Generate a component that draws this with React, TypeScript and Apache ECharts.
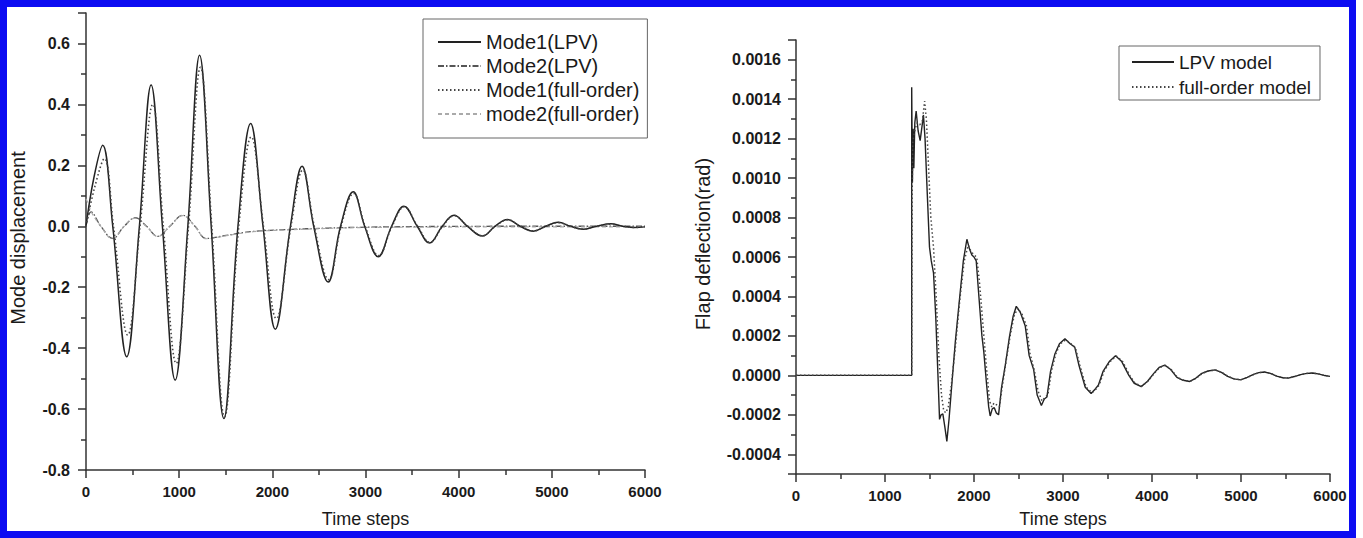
import React, { useEffect, useRef } from "react";
import * as echarts from "echarts";

// ---------- DATA ----------
// Left chart: mode displacement vs time steps
const mode1Lpv: [number, number][] = [
  [0, 0], [85, 0.16], [179, 0.266], [287, 0], [437, -0.428], [573, 0], [699, 0.464],
  [820, 0], [957, -0.505], [1093, 0], [1219, 0.561], [1344, 0], [1480, -0.631],
  [1631, 0], [1767, 0.337], [1900, 0], [2032, -0.338], [2194, 0], [2319, 0.197],
  [2444, 0], [2599, -0.183], [2732, 0], [2868, 0.113], [2991, 0], [3137, -0.1],
  [3280, 0], [3412, 0.066], [3555, 0], [3688, -0.055], [3824, 0], [3950, 0.036],
  [4093, 0], [4255, -0.032], [4390, 0], [4524, 0.022], [4660, 0], [4800, -0.016],
  [4935, 0], [5068, 0.013], [5200, 0], [5330, -0.01], [5480, 0], [5634, 0.008],
  [5760, 0], [5885, -0.004], [6000, -0.002],
];
const mode2Lpv: [number, number][] = [
  [0, 0], [54, 0.047], [160, 0], [287, -0.04], [410, 0], [530, 0.028], [650, 0],
  [770, -0.033], [900, 0], [1039, 0.036], [1170, 0], [1290, -0.04], [1505, -0.03],
  [1792, -0.017], [2150, -0.011], [2600, -0.006], [3000, -0.003], [3600, -0.001],
  [4500, 0], [6000, 0],
];
const mode1Full: [number, number][] = [
  [0, 0], [95, 0.13], [197, 0.222], [295, 0], [448, -0.357], [580, 0], [717, 0.4],
  [830, 0], [968, -0.45], [1100, 0], [1229, 0.522], [1350, 0], [1487, -0.625],
  [1640, 0], [1774, 0.293], [1905, 0], [2043, -0.303], [2200, 0], [2327, 0.185],
  [2450, 0], [2606, -0.175], [2738, 0], [2873, 0.108], [2996, 0], [3142, -0.096],
  [3285, 0], [3416, 0.064], [3560, 0], [3692, -0.053], [3828, 0], [3954, 0.035],
  [4097, 0], [4258, -0.031], [4393, 0], [4527, 0.021], [4663, 0], [4803, -0.015],
  [4938, 0], [5071, 0.012], [5203, 0], [5333, -0.009], [5483, 0], [5637, 0.007],
  [5763, 0], [5888, -0.004], [6000, -0.002],
];
const mode2Full: [number, number][] = [
  [0, 0.09], [30, 0.07], [60, 0.045], [160, 0], [285, -0.041], [410, 0], [530, 0.027],
  [650, 0], [770, -0.034], [900, 0], [1039, 0.035], [1170, 0], [1292, -0.041],
  [1505, -0.031], [1792, -0.018], [2150, -0.012], [2600, -0.007], [3000, -0.004],
  [3600, -0.003], [4500, -0.002], [6000, -0.002],
];

// Right chart: flap deflection (rad) vs time steps
const lpvModel: [number, number][] = [
  [0, 0], [1300, 0], [1300, 0.00146], [1308, 0.00098], [1316, 0.00125], [1324, 0.00105],
  [1335, 0.00128], [1350, 0.00134], [1372, 0.00124], [1395, 0.00119], [1415, 0.00126],
  [1432, 0.00132], [1450, 0.0012], [1475, 0.00092], [1500, 0.00065], [1520, 0.00058],
  [1545, 0.00052], [1570, 0.0003], [1595, 0], [1613, -0.000223], [1630, -0.0002],
  [1650, -0.000195], [1672, -0.00026], [1695, -0.000335], [1720, -0.00022],
  [1750, -0.00005], [1790, 0.00017], [1840, 0.0004], [1880, 0.00058], [1920, 0.00069],
  [1950, 0.00064], [1976, 0.00061], [2000, 0.0006], [2025, 0.00058], [2055, 0.0004],
  [2089, 0.0002], [2110, 0.00012], [2140, -0.00004], [2165, -0.00016], [2182, -0.000206],
  [2205, -0.00017], [2228, -0.000164], [2250, -0.00019], [2276, -0.0002], [2310, -0.00006],
  [2351, 0.00005], [2400, 0.0002], [2440, 0.0003], [2475, 0.00035], [2520, 0.00032],
  [2576, 0.00025], [2620, 0.0001], [2670, 0.00003], [2710, -0.0001], [2757, -0.000153],
  [2790, -0.00012], [2819, -0.00011], [2860, 0.00002], [2910, 0.00011], [2960, 0.00016],
  [3022, 0.000186], [3080, 0.00016], [3132, 0.000143], [3180, 0.00005], [3250, -0.00006],
  [3316, -0.000092], [3360, -0.00007], [3397, -0.00005], [3450, 0.00002], [3520, 0.00007],
  [3590, 0.0001], [3660, 0.00007], [3740, 0], [3800, -0.00004], [3879, -0.000057],
  [3950, -0.00003], [4020, 0.00001], [4080, 0.00004], [4144, 0.000052], [4210, 0.00003],
  [4280, -0.00001], [4350, -0.000025], [4424, -0.000031], [4490, -0.000015], [4560, 0.00001],
  [4630, 0.000022], [4708, 0.000028], [4780, 0.000015], [4850, -0.000005], [4920, -0.000018],
  [4997, -0.000023], [5070, -0.00001], [5140, 0.000005], [5200, 0.000014], [5262, 0.000017],
  [5330, 0.00001], [5400, -0.000004], [5470, -0.000012], [5532, -0.000014], [5600, -0.000006],
  [5670, 0.000004], [5740, 0.00001], [5807, 0.000012], [5880, 0.000006], [5940, -0.000001],
  [6000, -0.000005],
];
const fullOrderModel: [number, number][] = [
  [0, 0], [1300, 0], [1305, 0.0009], [1312, 0.00118], [1325, 0.00122], [1340, 0.00125],
  [1360, 0.00128], [1390, 0.00127], [1420, 0.00129], [1445, 0.00139], [1465, 0.0013],
  [1490, 0.00105], [1515, 0.0008], [1545, 0.00065], [1575, 0.0004], [1605, 0.0001],
  [1635, -0.0001], [1660, -0.00018], [1685, -0.00019], [1710, -0.00016], [1745, -0.00005],
  [1790, 0.00014], [1840, 0.00038], [1890, 0.00058], [1935, 0.00066], [1965, 0.00063],
  [2000, 0.00061], [2030, 0.0006], [2060, 0.00048], [2100, 0.00026], [2140, 0.00004],
  [2175, -0.00013], [2200, -0.00016], [2225, -0.00014], [2255, -0.00015], [2285, -0.00016],
  [2320, -0.00005], [2360, 0.00007], [2410, 0.00021], [2450, 0.0003], [2490, 0.00034],
  [2540, 0.00031], [2590, 0.00025], [2630, 0.00011], [2680, 0.00002], [2720, -0.00008],
  [2765, -0.00013], [2800, -0.00011], [2830, -0.0001], [2870, 0.00002], [2920, 0.00011],
  [2970, 0.00016], [3030, 0.00018], [3090, 0.00016], [3140, 0.00014], [3190, 0.00005],
  [3260, -0.00006], [3325, -0.000088], [3370, -0.00007], [3405, -0.00005], [3460, 0.00002],
  [3530, 0.00007], [3600, 0.000098], [3670, 0.00007], [3750, 0], [3810, -0.00004],
  [3885, -0.000055], [3955, -0.00003], [4025, 0.00001], [4085, 0.00004], [4150, 0.00005],
  [4215, 0.00003], [4285, -0.00001], [4355, -0.000025], [4430, -0.00003], [4495, -0.000015],
  [4565, 0.00001], [4635, 0.000022], [4712, 0.000027], [4785, 0.000015], [4855, -0.000005],
  [4925, -0.000018], [5000, -0.000022], [5075, -0.00001], [5145, 0.000005], [5205, 0.000014],
  [5266, 0.000016], [5335, 0.00001], [5405, -0.000004], [5475, -0.000012], [5536, -0.000013],
  [5605, -0.000006], [5675, 0.000004], [5745, 0.00001], [5810, 0.000011], [5885, 0.000006],
  [5945, -0.000001], [6000, -0.000004],
];

const leftLegend = ["Mode1(LPV)", "Mode2(LPV)", "Mode1(full-order)", "mode2(full-order)"];
const rightLegend = ["LPV model", "full-order model"];
const leftYName = "Mode displacement";
const rightYName = "Flap deflection(rad)";
const xName = "Time steps";

// ---------- STYLE ----------
const FONT = "'Liberation Sans', Arial, Helvetica, sans-serif";
const AX = "#333";
const TXT = "#1a1a1a";

function xAxisCfg(gridIndex: number, nameGap: number) {
  return {
    type: "value",
    gridIndex,
    min: 0,
    max: 6000,
    interval: 1000,
    name: xName,
    nameLocation: "middle",
    nameGap,
    nameTextStyle: { fontFamily: FONT, fontSize: 18, color: TXT },
    axisLine: { show: true, onZero: false, lineStyle: { color: AX, width: 1.5 } },
    axisTick: { show: true, inside: false, length: 8, lineStyle: { color: AX, width: 1.5 } },
    minorTick: { show: true, splitNumber: 2, length: 5, lineStyle: { color: AX, width: 1.5 } },
    axisLabel: {
      fontFamily: FONT, fontSize: 15, fontWeight: "bold", color: TXT, margin: 14,
      formatter: (v: number) => String(Math.round(v)),
    },
    splitLine: { show: false },
    minorSplitLine: { show: false },
  };
}

function buildOption() {
  const yBase = {
    type: "value",
    axisLine: { show: true, onZero: false, lineStyle: { color: AX, width: 1.5 } },
    axisTick: { show: true, inside: false, length: 8, lineStyle: { color: AX, width: 1.5 } },
    minorTick: { show: true, splitNumber: 2, length: 5, lineStyle: { color: AX, width: 1.5 } },
    splitLine: { show: false },
    minorSplitLine: { show: false },
  };
  const legendBase = {
    orient: "vertical",
    itemHeight: 14,
    borderColor: "#666",
    borderWidth: 1,
    selectedMode: false,
    itemStyle: { opacity: 0, borderWidth: 0 },
  };
  return {
    animation: false,
    backgroundColor: "#ffffff",
    grid: [
      { left: 86, top: 13, width: 559, height: 457 },
      { left: 796, top: 40, width: 534, height: 434 },
    ],
    xAxis: [xAxisCfg(0, 40), xAxisCfg(1, 36)],
    yAxis: [
      {
        ...yBase,
        gridIndex: 0,
        min: -0.8,
        max: 0.7,
        interval: 0.2,
        axisLabel: {
          fontFamily: FONT, fontSize: 16, fontWeight: "bold", color: TXT, margin: 16,
          formatter: (v: number) => (v > 0.65 ? "" : Math.abs(v) < 1e-9 ? "0.0" : v.toFixed(1)),
        },
      },
      {
        ...yBase,
        gridIndex: 1,
        min: -0.0005,
        max: 0.0017,
        splitNumber: 11,
        axisLabel: {
          fontFamily: FONT, fontSize: 16, fontWeight: "bold", color: TXT, margin: 15,
          formatter: (v: number) =>
            v < -0.00045 || v > 0.00165 ? "" : Math.abs(v) < 1e-12 ? "0.0000" : v.toFixed(4),
        },
      },
    ],
    legend: [
      {
        ...legendBase,
        data: leftLegend,
        left: 423,
        top: 19,
        padding: [13, 8, 14, 14],
        itemWidth: 43,
        itemGap: 4,
        textStyle: { fontFamily: FONT, fontSize: 20, color: TXT, lineHeight: 20 },
      },
      {
        ...legendBase,
        data: rightLegend,
        left: 1119,
        top: 46,
        padding: [6, 9, 3, 12],
        itemWidth: 42,
        itemGap: 5,
        textStyle: { fontFamily: FONT, fontSize: 19, color: TXT, lineHeight: 20 },
      },
    ],
    series: [
      {
        name: "Mode2(LPV)", type: "line", xAxisIndex: 0, yAxisIndex: 0, data: mode2Lpv,
        smooth: 0.4, symbol: "none",
        lineStyle: { color: "#555", width: 1.3, type: [6, 2, 1.5, 2] },
      },
      {
        name: "mode2(full-order)", type: "line", xAxisIndex: 0, yAxisIndex: 0, data: mode2Full,
        smooth: 0.4, symbol: "none",
        lineStyle: { color: "#aaa", width: 1.2, type: [4, 3] },
      },
      {
        name: "Mode1(LPV)", type: "line", xAxisIndex: 0, yAxisIndex: 0, data: mode1Lpv,
        smooth: 0.4, symbol: "none",
        lineStyle: { color: "#222", width: 1.5, type: "solid" },
      },
      {
        name: "Mode1(full-order)", type: "line", xAxisIndex: 0, yAxisIndex: 0, data: mode1Full,
        smooth: 0.4, symbol: "none",
        lineStyle: { color: "#444", width: 1.6, type: [1.5, 2.5] },
      },
      {
        name: "LPV model", type: "line", xAxisIndex: 1, yAxisIndex: 1, data: lpvModel,
        smooth: false, symbol: "none",
        lineStyle: { color: "#222", width: 1.4, type: "solid" },
      },
      {
        name: "full-order model", type: "line", xAxisIndex: 1, yAxisIndex: 1, data: fullOrderModel,
        smooth: false, symbol: "none",
        lineStyle: { color: "#444", width: 1.5, type: [1.5, 2.5] },
      },
    ],
    graphic: [
      {
        type: "text",
        silent: true,
        x: 18,
        y: 238,
        rotation: Math.PI / 2,
        style: {
          text: leftYName, fontFamily: FONT, fontSize: 20, fill: TXT,
          align: "center", verticalAlign: "middle",
        },
      },
      {
        type: "text",
        silent: true,
        x: 703,
        y: 244,
        rotation: Math.PI / 2,
        style: {
          text: rightYName, fontFamily: FONT, fontSize: 20, fill: TXT,
          align: "center", verticalAlign: "middle",
        },
      },
      {
        type: "rect",
        silent: true,
        z: 100,
        shape: { x: 3.5, y: 3.5, width: 1349, height: 531 },
        style: { fill: "none", stroke: "#0c0cf2", lineWidth: 7 },
      },
    ],
  };
}

export default function App() {
  const ref = useRef<HTMLDivElement>(null);
  useEffect(() => {
    document.body.style.margin = "0";
    const chart = echarts.init(ref.current!, null, { renderer: "svg" });
    chart.setOption(buildOption() as any);
    return () => chart.dispose();
  }, []);
  return <div ref={ref} style={{ width: 1363, height: 538, background: "#fff" }} />;
}
